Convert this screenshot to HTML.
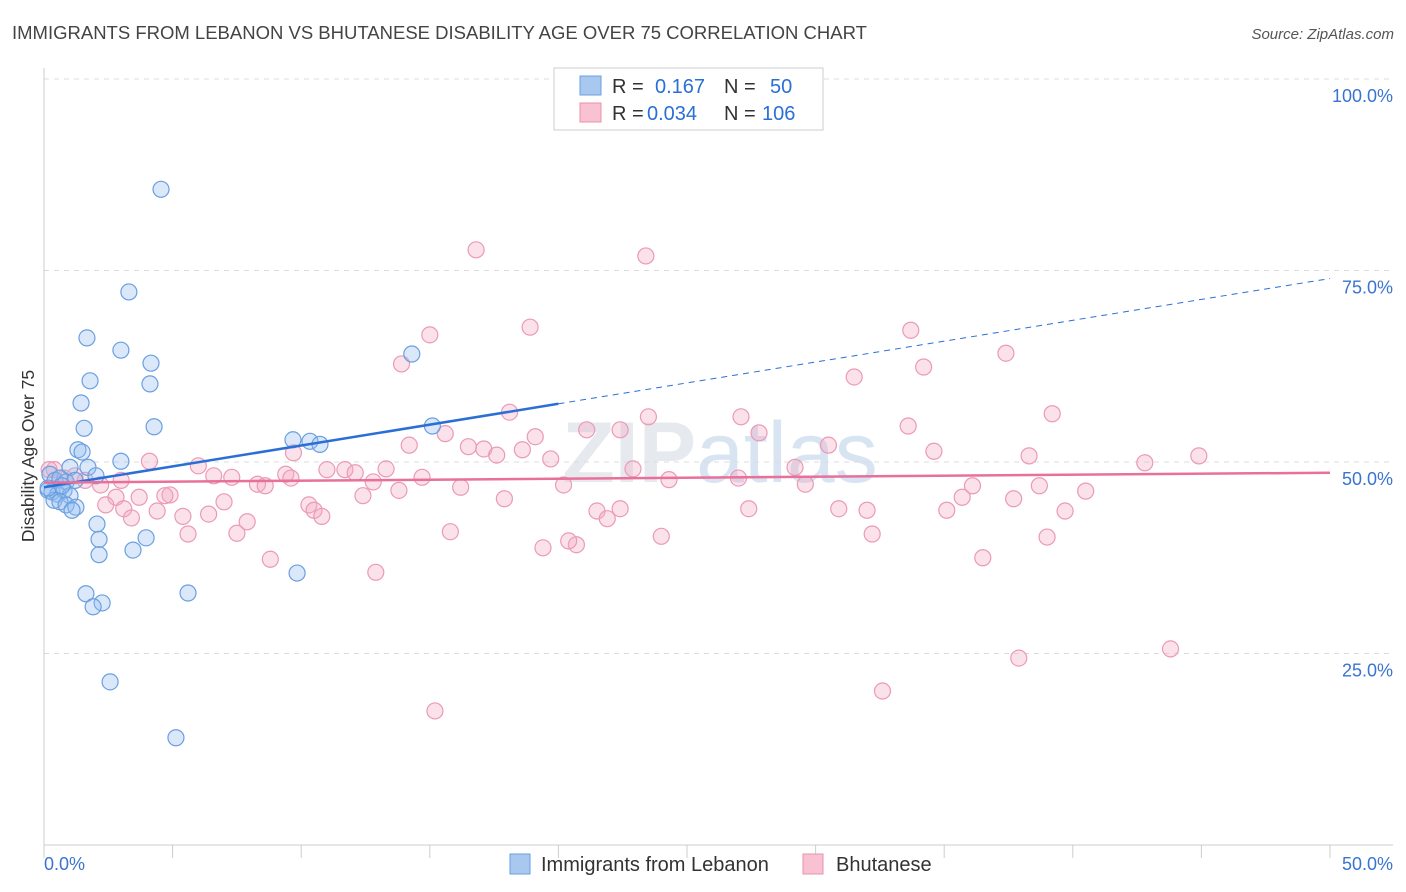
<!DOCTYPE html>
<html><head><meta charset="utf-8"><style>
body{margin:0;background:#fff;font-family:"Liberation Sans",sans-serif;}
svg{display:block}
</style></head><body>
<svg id="chart" width="1406" height="892">
<text x="12" y="39" font-size="18.5" fill="#444">IMMIGRANTS FROM LEBANON VS BHUTANESE DISABILITY AGE OVER 75 CORRELATION CHART</text>
<text x="1394" y="39" font-size="15" fill="#555" text-anchor="end" font-style="italic">Source: ZipAtlas.com</text>
<text x="720" y="482" font-size="86" fill="#e6e9ee" text-anchor="middle" font-weight="bold">ZIP<tspan fill="#d8e4f2" font-weight="normal">atlas</tspan></text>
<g id="grid"></g>
<g id="marks"></g>
<text transform="translate(34,456) rotate(-90)" font-size="17.5" fill="#333" text-anchor="middle">Disability Age Over 75</text>
<g>
<rect x="554" y="68" width="269" height="62" fill="#fff" stroke="#ccc"/>
<rect x="580" y="76" width="21" height="19" fill="#a8c8f0" stroke="#6a9fe0"/>
<rect x="580" y="103" width="21" height="19" fill="#f8c2d2" stroke="#e890ab"/>
<text x="612" y="93" font-size="20" fill="#333">R = <tspan fill="#2a6fd6" x="655">0.167</tspan><tspan x="724" fill="#333">N =</tspan><tspan x="770" fill="#2a6fd6">50</tspan></text>
<text x="612" y="120" font-size="20" fill="#333">R = <tspan fill="#2a6fd6" x="647">0.034</tspan><tspan x="724" fill="#333">N =</tspan><tspan x="762" fill="#2a6fd6">106</tspan></text>
</g>
<g>
<rect x="510" y="854" width="20" height="20" fill="#a8c8f0" stroke="#6a9fe0"/>
<text x="541" y="871" font-size="20" fill="#333">Immigrants from Lebanon</text>
<rect x="803" y="854" width="20" height="20" fill="#f8c2d2" stroke="#e890ab"/>
<text x="836" y="871" font-size="20" fill="#333">Bhutanese</text>
</g>
</svg>
<script>
const yTicks=[25,50,75,100];
const yTickLabels=["25.0%","50.0%","75.0%","100.0%"];
const xTickValues=[0,5,10,15,20,25,30,35,40,45,50];
const blueX=[4.55,3.30,1.67,2.99,4.16,1.79,4.12,14.3,1.44,1.56,4.28,15.1,9.68,10.34,10.73,1.32,1.48,2.99,1.01,1.71,2.02,0.23,0.43,0.62,0.86,1.21,0.16,0.31,0.54,0.78,1.01,0.39,0.62,0.86,1.24,1.09,2.06,2.14,3.97,2.14,3.46,9.84,1.63,5.60,2.26,1.91,2.57,5.13,0.16,0.70];
const blueY=[85.6,72.2,66.2,64.6,62.9,60.6,60.2,64.1,57.7,54.4,54.6,54.7,52.9,52.7,52.3,51.6,51.3,50.1,49.3,49.3,48.2,48.4,47.6,47.9,47.4,47.6,46.3,46.1,45.8,46.3,45.6,45.0,44.8,44.4,44.1,43.7,41.9,39.9,40.1,37.9,38.5,35.5,32.8,32.9,31.6,31.1,21.3,14.0,46.6,46.9];
const pinkX=[16.8,23.4,18.9,15.0,33.7,37.4,13.9,34.2,31.5,18.1,27.1,39.2,23.5,21.1,33.6,27.8,15.6,19.1,30.5,14.2,16.5,17.1,34.6,17.6,18.6,9.7,4.1,19.7,38.3,44.9,42.8,6.0,13.3,22.9,29.2,11.0,11.7,12.1,6.6,7.3,9.4,14.7,8.3,8.6,12.8,16.2,20.2,24.3,27.0,29.6,36.1,38.7,1.6,2.2,0.4,0.8,1.2,2.8,3.7,4.9,4.7,7.0,10.3,12.4,13.8,17.9,35.7,37.7,40.5,2.4,3.1,4.4,5.4,6.4,10.5,10.8,21.5,22.4,27.4,30.9,32.0,35.1,39.7,3.4,7.9,21.9,5.6,7.5,15.8,24.0,32.2,39.0,19.4,20.7,20.4,8.8,36.5,12.9,43.8,37.9,32.6,15.2,0.2,3.0,9.6,22.4];
const pinkY=[77.7,76.9,67.6,66.6,67.2,64.2,62.8,62.4,61.1,56.5,55.9,56.3,55.9,54.2,54.7,53.8,53.7,53.3,52.2,52.2,52.0,51.7,51.4,50.9,51.6,51.2,50.1,50.4,50.8,50.8,49.9,49.5,49.1,49.1,49.3,49.0,49.0,48.6,48.2,48.0,48.4,48.0,47.1,46.9,47.4,46.7,47.0,47.7,47.9,47.1,46.9,46.9,47.6,47.0,49.0,47.9,48.2,45.4,45.4,45.7,45.6,44.8,44.4,45.6,46.3,45.2,45.4,45.2,46.2,44.4,43.9,43.6,42.9,43.2,43.7,42.9,43.6,43.9,43.9,43.9,43.7,43.7,43.6,42.7,42.2,42.6,40.6,40.7,40.9,40.3,40.6,40.2,38.8,39.2,39.7,37.3,37.5,35.6,25.6,24.4,20.1,17.5,49.0,47.6,47.9,54.2];
const blueTrend=[46.7,0.545];
const pinkTrend=[47.3,0.026];

const NS="http://www.w3.org/2000/svg";
const X0=44,X1=1330,Y0=845,PXPER=7.66;
const sx=v=>X0+(v/50)*(X1-X0);
const sy=v=>Y0-v*PXPER;
function mk(tag,attrs,parent){const e=document.createElementNS(NS,tag);for(const k in attrs)e.setAttribute(k,attrs[k]);parent.appendChild(e);return e;}
const grid=document.getElementById('grid'),marks=document.getElementById('marks');
yTicks.forEach((t,i)=>{
  const l=mk('line',{x1:X0,x2:1393,y1:sy(t),y2:sy(t),stroke:'#dcdcdc','stroke-dasharray':'5,5'},grid);
  
  
  const tx=mk('text',{x:1393,y:sy(t)+23,'font-size':18,fill:'#3a74d0','text-anchor':'end'},grid);
  tx.textContent=yTickLabels[i];
  
  
});
const ya=mk('line',{x1:X0,x2:X0,y1:68,y2:Y0,stroke:'#ccc'},grid);


const xa=mk('line',{x1:X0,x2:1393,y1:Y0,y2:Y0,stroke:'#ccc'},grid);


xTickValues.forEach(t=>{
  const l=mk('line',{x1:sx(t),x2:sx(t),y1:Y0,y2:Y0+13,stroke:'#ccc'},grid);
  
  
});
const xl0=mk('text',{x:44,y:870,'font-size':18,fill:'#3a74d0'},grid);xl0.textContent='0.0%';


const xl1=mk('text',{x:1393,y:870,'font-size':18,fill:'#3a74d0','text-anchor':'end'},grid);xl1.textContent='50.0%';



pinkX.forEach((x,i)=>{
  const c=mk('circle',{cx:sx(x),cy:sy(pinkY[i]),r:8,fill:'rgba(244,170,195,0.35)',stroke:'#eb9ab5','stroke-width':1.2},marks);
  
  
});
blueX.forEach((x,i)=>{
  const c=mk('circle',{cx:sx(x),cy:sy(blueY[i]),r:8,fill:'rgba(150,190,240,0.35)',stroke:'#6a9fe0','stroke-width':1.2},marks);
  
  
});
const bl=mk('line',{x1:sx(0),y1:sy(blueTrend[0]),x2:sx(20),y2:sy(blueTrend[0]+20*blueTrend[1]),stroke:'#2a6fd6','stroke-width':2.5},marks);


const bd=mk('line',{x1:sx(20),y1:sy(blueTrend[0]+20*blueTrend[1]),x2:sx(50),y2:sy(blueTrend[0]+50*blueTrend[1]),stroke:'#2a6fd6','stroke-width':1,'stroke-dasharray':'6,5'},marks);


const pl=mk('line',{x1:sx(0),y1:sy(pinkTrend[0]),x2:sx(50),y2:sy(pinkTrend[0]+50*pinkTrend[1]),stroke:'#e8709a','stroke-width':2.5},marks);


</script>
</body></html>
